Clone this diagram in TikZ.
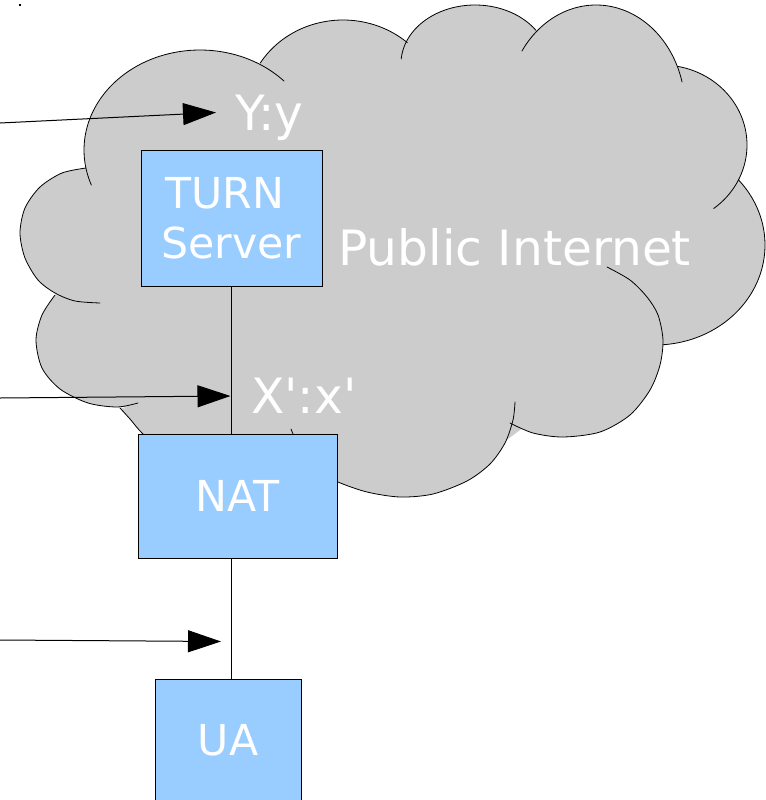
\documentclass[tikz,border=0pt]{standalone}
\usepackage{fontspec}
\newfontfamily\dejavu{DejaVu Sans}
\usetikzlibrary{arrows.meta}
\definecolor{cloudgray}{HTML}{CCCCCC}
\definecolor{boxblue}{HTML}{99CCFF}

% elliptic bump of the cloud: centre (#1,#2), radii #3/#4
\newcommand\cloudblob[4]{%
  \fill[cloudgray] plot[domain=0:360, samples=100, variable=\t]
    ({#1+#3*cos(\t)},{#2+#4*sin(\t)}) -- cycle;}
% visible outline of such a bump, from angle #5 to #6
\newcommand\cloudarc[6]{%
  \draw[cloudline] plot[domain=#5:#6, samples=80, variable=\t]
    ({#1+#3*cos(\t)},{#2+#4*sin(\t)});}

\tikzset{
  cloudline/.style={line width=0.6pt, black, line cap=round},
  unit/.style={draw=black, line width=0.75pt, fill=boxblue, text=white,
    font=\dejavu\fontsize{32}{37.5}\selectfont, inner sep=0pt},
  tag/.style={text=white, font=\dejavu\fontsize{36.5}{44}\selectfont,
    inner sep=0pt, anchor=base west},
  wire/.style={line width=0.75pt, black},
  pointer/.style={line width=0.75pt, black,
    -{Triangle[length=24.75pt, width=16.5pt]}},
}

\begin{document}
\begin{tikzpicture}[x=0.75pt, y=-0.75pt]
\useasboundingbox (0,0) rectangle (765,800);

% ---------- cloud body ----------
\cloudblob{200}{150}{116}{100}
\cloudblob{343}{110}{97}{90}
\cloudblob{475}{63.5}{74}{58.5}
\cloudblob{596}{108.4}{89}{103.4}
\cloudblob{662}{145}{85}{80}
\cloudblob{655}{245}{110}{100}
\fill[cloudgray] plot[smooth] coordinates {(86,168) (62,173) (40,187) (25,208)
  (20,233) (25,258) (38,280) (55,293) (75,301) (100,303)} -- (140,250) -- cycle;
\fill[cloudgray] plot[smooth] coordinates {(55,295) (42,315) (36,340) (42,368)
  (60,389) (88,403) (117,407) (138,403)} -- (150,360) -- (100,300) -- cycle;
\fill[cloudgray] plot[smooth] coordinates {(120,408) (130,419) (142,433) (160,448)}
  -- (200,440) -- (150,410) -- cycle;
\fill[cloudgray] plot[smooth] coordinates {(607,267) (630,280) (647,297) (658,315)
  (663,340) (660,365) (650,390) (630,415) (600,432) (563,437) (533,433) (510,423)}
  -- (540,380) -- (580,290) -- cycle;
\fill[cloudgray] plot[smooth] coordinates {(515,402) (513,420) (505,443) (490,464)
  (467,481) (433,494) (400,497) (367,492) (338,482) (315,470)}
  -- (330,440) -- (450,400) -- cycle;
\fill[cloudgray] (90,200) -- (150,110) -- (260,80) -- (400,70) -- (530,55)
  -- (650,100) -- (700,180) -- (690,260) -- (640,330) -- (560,400) -- (480,460)
  -- (400,480) -- (330,470) -- (200,450) -- (150,430) -- (110,395) -- (65,345)
  -- (75,300) -- (70,250) -- cycle;

% ---------- cloud outline ----------
\cloudarc{200}{150}{116}{100}{159.5}{316.4}
\cloudarc{343}{110}{97}{90}{211.5}{311.6}
\cloudarc{475}{63.5}{74}{58.5}{184.4}{325.5}
\cloudarc{596}{108.4}{89}{103.4}{213.7}{345.2}
\cloudarc{662}{145}{85}{80}{280.9}{412.5}
\cloudarc{655}{245}{110}{100}{-40.7}{86}
\draw[cloudline] plot[smooth] coordinates {(86,168) (62,173) (40,187) (25,208)
  (20,233) (25,258) (38,280) (55,293) (75,301) (100,303)};
\draw[cloudline] plot[smooth] coordinates {(55,295) (42,315) (36,340) (42,368)
  (60,389) (88,403) (117,407) (138,403)};
\draw[cloudline] plot[smooth] coordinates {(120,408) (130,419) (142,433) (160,448)};
\draw[cloudline] plot[smooth] coordinates {(291,429) (294,436) (300,446)};
\draw[cloudline] plot[smooth] coordinates {(607,267) (630,280) (647,297) (658,315)
  (663,340) (660,365) (650,390) (630,415) (600,432) (563,437) (533,433) (510,423)};
\draw[cloudline] plot[smooth] coordinates {(515,402) (513,420) (505,443) (490,464)
  (467,481) (433,494) (400,497) (367,492) (338,482) (315,470)};

% ---------- boxes ----------
\node[unit, minimum width=135.75pt, minimum height=102pt, align=center]
  (turn) at (231.5,218) {TURN\kern0.318em\\Server};
\node[unit, minimum width=149.25pt, minimum height=93pt] (nat) at (237.5,496) {NAT};
\node[unit, minimum width=109.5pt, minimum height=91.5pt] (ua) at (228,740) {UA};

% ---------- links between the boxes ----------
\draw[wire] (turn.south) -- (turn.south |- nat.north);
\draw[wire] (turn.south |- nat.south) -- (turn.south |- ua.north);

% ---------- address labels ----------
\node[tag] (yaddr) at (235,130) {Y:y};
\node[tag] (inet) at (338,265) {Public Internet};
\node[tag] (xaddr) at (251,413) {X':x'};

% ---------- incoming arrows ----------
\coordinate (in1) at (0,123);
\coordinate (to1) at (216,112.5);
\coordinate (in2) at (0,398);
\coordinate (to2) at (230.5,396);
\coordinate (in3) at (0,640);
\coordinate (to3) at (221,641.5);
\draw[pointer] (in1) -- (to1);
\draw[pointer] (in2) -- (to2);
\draw[pointer] (in3) -- (to3);

% stray dot in the corner
\fill (19,4) rectangle (21,6);
\end{tikzpicture}
\end{document}
